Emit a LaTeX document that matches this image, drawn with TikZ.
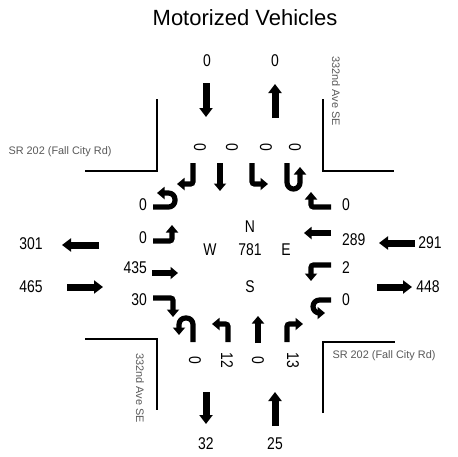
\documentclass[tikz,border=0pt]{standalone}
\usepackage{fontspec}
\setmainfont{Liberation Sans}
\newfontfamily\numfont{Liberation Sans}[FakeStretch=0.82]
\usetikzlibrary{arrows.meta}

\begin{document}
\begin{tikzpicture}[x=1pt, y=-1pt,
    move/.style={line width=5.2pt, -{Triangle[width=12pt,length=7.5pt]}, rounded corners=2.5pt},
    uturn/.style={move, rounded corners=6.5pt},
    approach/.style={line width=7pt, -{Triangle[width=13pt,length=9pt]}},
    count/.style={font=\numfont\fontsize{17}{17}\selectfont, inner sep=0pt},
    street/.style={font=\fontsize{10.9}{11}\selectfont, text=black!65, inner sep=0pt},
    curb/.style={line width=2pt}
]
\useasboundingbox (0,0) rectangle (458,456);

\node[font=\fontsize{22}{22}\selectfont] (title) at (245,18) {Motorized Vehicles};

% road edges
\draw[curb] (157,99) -- (157,171) -- (85,171);
\draw[curb] (323,99) -- (323,171) -- (394,171);
\draw[curb] (85,339) -- (157,339) -- (157,410);
\draw[curb] (323,413) -- (323,342) -- (395,342);

\node[street] (nameW) at (60,152) {SR 202 (Fall City Rd)};
\node[street] (nameE) at (384,356) {SR 202 (Fall City Rd)};
\node[street, rotate=-90] (nameN) at (336,91) {332nd Ave SE};
\node[street, rotate=-90] (nameS) at (140,388) {332nd Ave SE};

% approach totals
\node[count] (outN) at (207,61) {0};
\node[count] (inN) at (275,61) {0};
\node[count] (outS) at (206,444) {32};
\node[count] (inS) at (275,444) {25};
\node[count] (outW) at (31,244) {301};
\node[count] (inW) at (31,287) {465};
\node[count] (inE) at (430,243) {291};
\node[count] (outE) at (428,287) {448};

\draw[approach] (206,83) -- (206,117);
\draw[approach] (275,118) -- (275,84);
\draw[approach] (206,392) -- (206,424);
\draw[approach] (275,426) -- (275,392);
\draw[approach] (99,245) -- (62,245);
\draw[approach] (67,287) -- (103,287);
\draw[approach] (415,243) -- (379,243);
\draw[approach] (377,287) -- (412,287);

% intersection total
\node[count] (north) at (250,227) {N};
\node[count] (west) at (210,250) {W};
\node[count] (total) at (250,250) {781};
\node[count] (east) at (286,250) {E};
\node[count] (south) at (250,287) {S};

% southbound
\node[count, rotate=-90] (sbR) at (200,147) {0};
\node[count, rotate=-90] (sbT) at (232,147) {0};
\node[count, rotate=-90] (sbL) at (266,147) {0};
\node[count, rotate=-90] (sbU) at (295,147) {0};
\draw[move] (193,163) -- (193,184) -- (177,184);
\draw[move] (220,163) -- (220,191);
\draw[move] (252,163) -- (252,184) -- (268,184);
\draw[uturn] (287,163) -- (287,189) -- (300,189) -- (300,167);

% northbound
\node[count, rotate=-90] (nbU) at (195,360) {0};
\node[count, rotate=-90] (nbL) at (227,360) {12};
\node[count, rotate=-90] (nbT) at (258,360) {0};
\node[count, rotate=-90] (nbR) at (293,360) {13};
\draw[uturn] (193,342) -- (193,318) -- (179,318) -- (179,335);
\draw[move] (228,342) -- (228,324) -- (212,324);
\draw[move] (258,343) -- (258,316);
\draw[move] (287,342) -- (287,324) -- (303,324);

% eastbound
\node[count, anchor=east] (ebU) at (147,205) {0};
\node[count, anchor=east] (ebL) at (147,238) {0};
\node[count, anchor=east] (ebT) at (147,268) {435};
\node[count, anchor=east] (ebR) at (147,300) {30};
\draw[uturn] (153,207) -- (175,207) -- (175,193) -- (157,193);
\draw[move] (153,241) -- (172,241) -- (172,225);
\draw[move] (152,273) -- (178,273);
\draw[move] (153,298) -- (173,298) -- (173,317);

% westbound
\node[count, anchor=west] (wbR) at (342,205) {0};
\node[count, anchor=west] (wbT) at (342,240) {289};
\node[count, anchor=west] (wbL) at (342,268) {2};
\node[count, anchor=west] (wbU) at (342,300) {0};
\draw[move] (331,207) -- (311,207) -- (311,192);
\draw[move] (331,233) -- (304,233);
\draw[move] (331,265) -- (311,265) -- (311,281);
\draw[uturn] (331,300) -- (313,300) -- (313,313) -- (325,313);

\end{tikzpicture}
\end{document}
